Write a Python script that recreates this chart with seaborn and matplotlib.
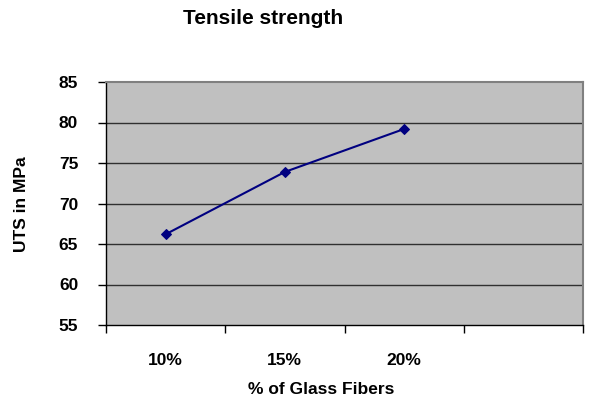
import matplotlib
matplotlib.use("Agg")
import matplotlib.pyplot as plt
import seaborn as sns
import pandas as pd

# Tensile strength data
fiber_content = ["10%", "15%", "20%"]
uts_mpa = [66.2, 73.9, 79.2]
y_ticks = [55, 60, 65, 70, 75, 80, 85]

sns.set_theme(style="white")
plt.rcParams["font.family"] = ["Liberation Sans", "DejaVu Sans"]
plt.rcParams["font.weight"] = "bold"
plt.rcParams["text.color"] = "black"
plt.rcParams["axes.labelcolor"] = "black"
plt.rcParams["xtick.color"] = "black"
plt.rcParams["ytick.color"] = "black"

df = pd.DataFrame({"fiber": fiber_content, "uts": uts_mpa})

fig = plt.figure(figsize=(5.92, 4.03), dpi=100)
ax = fig.add_axes([106 / 592, 1 - 325 / 403, (583 - 106) / 592, (325 - 82) / 403])
ax.set_facecolor("#C0C0C0")

sns.lineplot(data=df, x="fiber", y="uts", ax=ax, color="#000080", linewidth=1.5,
             marker="D", markersize=5.5, markeredgecolor="#000080", sort=False)

ax.set_ylim(55, 85)
ax.set_yticks(y_ticks)
ax.set_yticklabels([str(v) for v in y_ticks], fontsize=12.5, fontweight="bold", color="black")
for v in y_ticks[1:-1]:
    ax.axhline(v, color="#303030", linewidth=1.0, zorder=1)

# Category axis: 4 slots, boundary tick marks, labels at slot centres
ax.set_xlim(-0.5, 3.5)
ax.set_xticks([-0.5, 0.5, 1.5, 2.5, 3.5])
ax.set_xticklabels([])
ax.set_xticks(range(len(fiber_content)), minor=True)
ax.set_xticklabels(fiber_content, minor=True, fontsize=12.5, fontweight="bold", color="black")
ax.tick_params(axis="x", which="major", direction="out", length=6, width=1, color="black", bottom=True)
ax.tick_params(axis="x", which="minor", length=0, pad=20)
ax.tick_params(axis="y", which="major", direction="out", length=6, width=1, color="black", left=True, pad=14)

for side in ["left", "bottom"]:
    ax.spines[side].set_color("black")
    ax.spines[side].set_linewidth(1.0)
for side in ["top", "right"]:
    ax.spines[side].set_color("#808080")
    ax.spines[side].set_linewidth(1.5)

ax.set_xlabel("% of Glass Fibers", fontsize=12.5, fontweight="bold", color="black")
ax.set_ylabel("UTS in MPa", fontsize=12.5, fontweight="bold", color="black")
ax.xaxis.set_label_coords((321.5 - 106) / (583 - 106), -(389 - 325) / (325 - 82))
ax.yaxis.set_label_coords(-(106 - 21.5) / (583 - 106), (325 - 204) / (325 - 82))
ax.xaxis.label.set_va("center")
ax.yaxis.label.set_va("center")

fig.text(263 / 592, 1 - 18 / 403, "Tensile strength", ha="center", va="center",
         fontsize=15, fontweight="bold", color="black")

fig.savefig("out.png", dpi=100, facecolor="white")
